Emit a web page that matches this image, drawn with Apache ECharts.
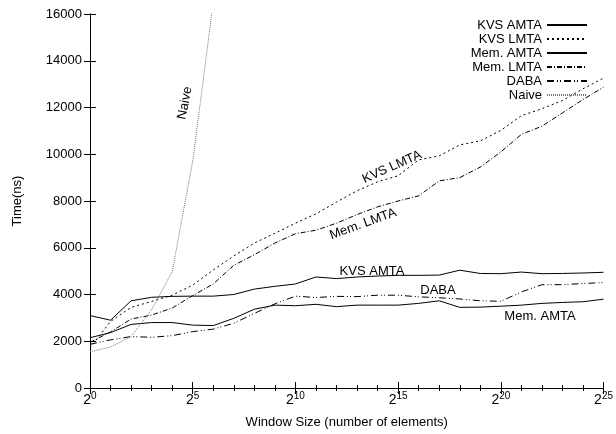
<!DOCTYPE html>
<html>
<head>
<meta charset="utf-8">
<script src="https://cdn.jsdelivr.net/npm/echarts@6/dist/echarts.min.js"></script>
<style>
html,body{margin:0;padding:0;background:#fff;}
#c{width:616px;height:434px;}
</style>
</head>
<body>
<div id="c"></div>
<script>
// Window size exponents (x = log2 of window size)
const exps = [0,1,2,3,4,5,6,7,8,9,10,11,12,13,14,15,16,17,18,19,20,21,22,23,24,25];
const naiveExps = [0,1,2,3,4,5,6];

const kvsAmta = [3100,2900,3730,3880,3920,3930,3930,4000,4230,4350,4450,4750,4680,4750,4790,4820,4820,4830,5040,4900,4890,4960,4890,4900,4920,4950];
const kvsLmta = [1700,2850,3450,3700,3970,4400,5050,5650,6200,6620,7050,7450,7950,8440,8820,9080,9760,9930,10400,10570,11020,11650,11950,12300,12800,13260];
const memAmta = [2150,2370,2720,2800,2800,2690,2670,2980,3370,3545,3520,3580,3480,3545,3545,3545,3620,3730,3450,3460,3500,3545,3620,3660,3690,3800];
const memLmta = [1950,2400,2950,3120,3420,3950,4450,5250,5700,6200,6600,6750,7050,7420,7750,8000,8220,8860,9000,9450,10100,10850,11200,11770,12340,12870];
const daba    = [1870,2060,2200,2170,2240,2410,2520,2770,3190,3600,3930,3870,3920,3910,3970,3970,3900,3860,3810,3730,3710,4110,4420,4420,4470,4510];
const naive   = [1550,1750,2200,3350,4970,9700,16500];

const seriesNames = ['KVS AMTA','KVS LMTA','Mem. AMTA','Mem. LMTA','DABA','Naive'];
const xTitle = 'Window Size (number of elements)';
const yTitle = 'Time(ns)';

const FONT = 'Liberation Sans, Arial, sans-serif';
const pair = (xs, ys) => ys.map((v, i) => [xs[i], v]);

const chart = echarts.init(document.getElementById('c'), null, {renderer: 'canvas'});

function mkSeries(name, xs, ys, color, type) {
  return {
    name: name, type: 'line', data: pair(xs, ys), symbol: 'none',
    lineStyle: {color: color, width: 1, type: type},
    itemStyle: {color: color},
    animation: false, clip: true, z: 3
  };
}

const tickStyle = {color: '#000', width: 1};
const xAxisCommon = {
  type: 'value', min: 0, max: 25, interval: 5,
  axisLine: {show: true, lineStyle: {color: '#000', width: 1}},
  axisTick: {show: true, inside: true, length: 6, lineStyle: tickStyle},
  minorTick: {show: true, splitNumber: 5, length: 3, lineStyle: tickStyle},
  splitLine: {show: false}, minorSplitLine: {show: false}
};
const yAxisCommon = {
  type: 'value', min: 0, max: 16000, interval: 2000,
  axisLine: {show: true, lineStyle: {color: '#000', width: 1}},
  axisTick: {show: true, inside: true, length: 6, lineStyle: tickStyle},
  splitLine: {show: false}
};

const option = {
  backgroundColor: '#fff',
  animation: false,
  grid: {left: 90, right: 12, top: 14, bottom: 44, containLabel: false},
  legend: {
    orient: 'vertical', right: 28, top: 18, align: 'right',
    itemWidth: 40, itemHeight: 10, itemGap: 0, padding: 0,
    itemStyle: {opacity: 0},
    textStyle: {fontFamily: FONT, fontSize: 13, color: '#000', lineHeight: 14, width: 84, align: 'right'},
    data: seriesNames
  },
  xAxis: [
    Object.assign({}, xAxisCommon, {
      position: 'bottom',
      name: xTitle, nameLocation: 'middle', nameGap: 28,
      nameTextStyle: {fontFamily: FONT, fontSize: 13, color: '#000'},
      axisLabel: {
        show: true, margin: 5, color: '#000',
        formatter: v => '{a|2}{s|' + v + '}',
        rich: {
          a: {fontFamily: FONT, fontSize: 14, lineHeight: 14, verticalAlign: 'bottom', color: '#000'},
          s: {fontFamily: FONT, fontSize: 10, lineHeight: 10, verticalAlign: 'bottom', padding: [0, 0, 6, 0], color: '#000'}
        }
      }
    }),
    Object.assign({}, xAxisCommon, {position: 'top', axisLabel: {show: false}})
  ],
  yAxis: [
    Object.assign({}, yAxisCommon, {
      position: 'left',
      name: yTitle, nameLocation: 'middle', nameGap: 66, nameRotate: 90,
      nameTextStyle: {fontFamily: FONT, fontSize: 13, color: '#000'},
      axisLabel: {show: true, margin: 8, color: '#000', fontFamily: FONT, fontSize: 13, formatter: v => String(v)}
    }),
    Object.assign({}, yAxisCommon, {position: 'right', axisLabel: {show: false}})
  ],
  series: [
    mkSeries('KVS AMTA', exps, kvsAmta, '#000', 'solid'),
    mkSeries('KVS LMTA', exps, kvsLmta, '#000', [2, 3]),
    mkSeries('Mem. AMTA', exps, memAmta, '#000', 'solid'),
    mkSeries('Mem. LMTA', exps, memLmta, '#000', [5, 2, 1, 2]),
    mkSeries('DABA', exps, daba, '#000', [7, 3, 1, 2, 1, 3]),
    mkSeries('Naive', naiveExps, naive, '#777', [1, 1])
  ]
};
chart.setOption(option);

// in-plot annotation labels
const deg = Math.PI / 180;
const notes = [
  {text: 'Naive', x: 185, y: 103, r: 79},
  {text: 'KVS LMTA', x: 392, y: 167, r: 24},
  {text: 'Mem. LMTA', x: 363, y: 224, r: 20},
  {text: 'KVS AMTA', x: 372, y: 271, r: 0},
  {text: 'DABA', x: 438, y: 290, r: 0},
  {text: 'Mem. AMTA', x: 540, y: 316, r: 0}
];
chart.setOption({
  graphic: notes.map(n => ({
    type: 'text', x: n.x, y: n.y, rotation: n.r * deg, z: 10,
    style: {text: n.text, fill: '#000', font: '13px ' + FONT, textAlign: 'center', textVerticalAlign: 'middle'}
  }))
});
</script>
</body>
</html>
